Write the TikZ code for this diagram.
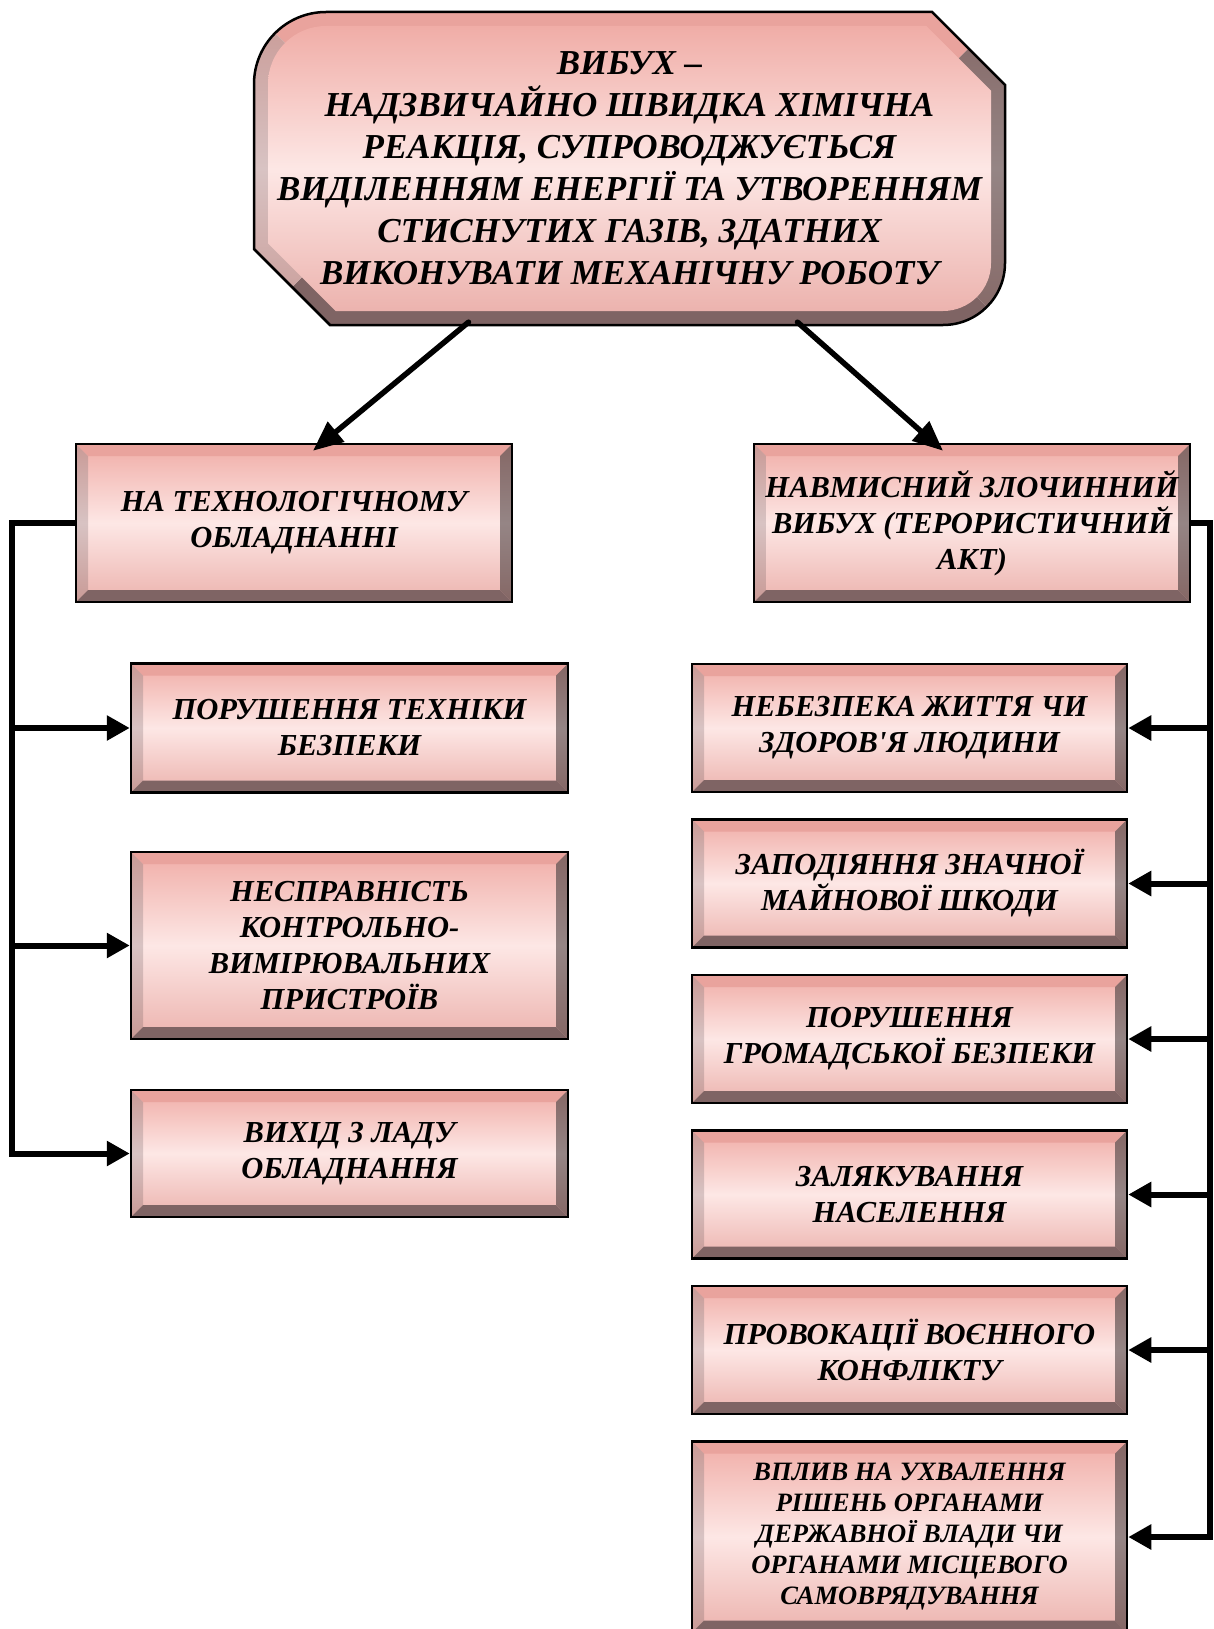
\documentclass[tikz,border=0pt]{standalone}
\usepackage{fontspec}
\setmainfont{Liberation Serif}
\usetikzlibrary{arrows.meta}

\definecolor{pinkTop}{HTML}{F0ADA7}
\definecolor{pinkMid}{HTML}{FDE7E5}
\definecolor{pinkBot}{HTML}{ECB3AE}
\definecolor{bevTop}{HTML}{E9A39D}
\definecolor{bevLeftEnd}{HTML}{C99A96}
\definecolor{bevLeft}{HTML}{D8C3C3}
\definecolor{bevRightEnd}{HTML}{856765}
\definecolor{bevRight}{HTML}{958585}
\definecolor{bevBot}{HTML}{7F6464}

\begin{document}
\begin{tikzpicture}[
    x=1pt, y=-1pt,
    main_text/.style={font=\bfseries\itshape\fontsize{35}{42}\selectfont, align=center},
    small_text/.style={font=\bfseries\itshape\fontsize{26.5}{31}\selectfont},
    bevel_box/.style={
        draw=black, line width=2.5pt, inner sep=0pt, align=center,
        font=\bfseries\itshape\fontsize{30.5}{36}\selectfont,
        top color=pinkTop, bottom color=pinkBot, middle color=pinkMid,
        path picture={
            \coordinate (pNW) at (path picture bounding box.north west);
            \coordinate (pNE) at (path picture bounding box.north east);
            \coordinate (pSW) at (path picture bounding box.south west);
            \coordinate (pSE) at (path picture bounding box.south east);
            \fill[bevTop] (pNW) -- (pNE) -- ([shift={(-12pt,-12pt)}]pNE) -- ([shift={(12pt,-12pt)}]pNW) -- cycle;
            \shade[top color=bevLeftEnd, bottom color=bevLeftEnd, middle color=bevLeft]
                (pNW) -- ([shift={(12pt,-12pt)}]pNW) -- ([shift={(12pt,12pt)}]pSW) -- (pSW) -- cycle;
            \shade[top color=bevRightEnd, bottom color=bevRightEnd, middle color=bevRight]
                (pNE) -- ([shift={(-12pt,-12pt)}]pNE) -- ([shift={(-12pt,12pt)}]pSE) -- (pSE) -- cycle;
            \fill[bevBot] (pSW) -- ([shift={(12pt,12pt)}]pSW) -- ([shift={(-12pt,12pt)}]pSE) -- (pSE) -- cycle;
        }
    },
    arrow_main/.style={-{Triangle[length=30pt,width=25pt]}, line width=5.5pt, line cap=round},
    arrow_side/.style={-{Triangle[length=23pt,width=24pt]}, line width=6pt},
    bus_line/.style={line width=6pt, line join=miter}
]
\useasboundingbox (0,0) rectangle (1214,1629);

% Macros for the big top box
\def\tL{254}
\def\tR{1005}
\def\tT{12}
\def\tB{325}
\def\tBev{14}
\def\tHalf{156}

\newcommand{\vybukhShape}[1]{(\tL+#1, \tT+72) arc[start angle=180, end angle=270, radius=72-#1]
    -- (\tR-73-0.41*#1, \tT+#1) -- (\tR-#1, \tT+73+0.41*#1) -- (\tR-#1, \tB-62)
    arc[start angle=0, end angle=90, radius=62-#1]
    -- (\tL+76+0.41*#1, \tB-#1) -- (\tL+#1, \tB-76-0.41*#1) -- cycle}

% ==========================================
% Top box: definition
\begin{scope}
    \clip \vybukhShape{0};
    \fill[bevTop] (\tL,\tT) -- (\tR,\tT) -- (\tR-\tHalf,\tT+\tHalf) -- (\tL+\tHalf,\tT+\tHalf) -- cycle;
    \fill[bevBot] (\tL,\tB) -- (\tR,\tB) -- (\tR-\tHalf,\tB-\tHalf) -- (\tL+\tHalf,\tB-\tHalf) -- cycle;
    \shade[top color=bevLeftEnd, bottom color=bevLeftEnd, middle color=bevLeft]
        (\tL,\tT) -- (\tL+\tHalf,\tT+\tHalf) -- (\tL+\tHalf,\tB-\tHalf) -- (\tL,\tB) -- cycle;
    \shade[top color=bevRightEnd, bottom color=bevRightEnd, middle color=bevRight]
        (\tR,\tT) -- (\tR-\tHalf,\tT+\tHalf) -- (\tR-\tHalf,\tB-\tHalf) -- (\tR,\tB) -- cycle;
\end{scope}
\shade[top color=pinkTop, bottom color=pinkBot, middle color=pinkMid] \vybukhShape{\tBev};
\draw[line width=2.5pt] \vybukhShape{0};
\node[main_text, minimum width=751pt, minimum height=313pt, inner sep=0pt] (vybukh) at (629.5,168.5)
    {ВИБУХ –\\НАДЗВИЧАЙНО ШВИДКА ХІМІЧНА\\РЕАКЦІЯ, СУПРОВОДЖУЄТЬСЯ\\ВИДІЛЕННЯМ ЕНЕРГІЇ ТА УТВОРЕННЯМ\\СТИСНУТИХ ГАЗІВ, ЗДАТНИХ\\ВИКОНУВАТИ МЕХАНІЧНУ РОБОТУ};

% ==========================================
% Two kinds of explosion
\node[bevel_box, minimum width=436pt, minimum height=158pt] (tekh) at (294,523)
    {НА ТЕХНОЛОГІЧНОМУ\\ОБЛАДНАННІ};
\node[bevel_box, minimum width=436pt, minimum height=158pt] (navm) at (972,523)
    {НАВМИСНИЙ ЗЛОЧИННИЙ\\ВИБУХ (ТЕРОРИСТИЧНИЙ\\АКТ)};

\draw[arrow_main] ([xshift=-161pt,yshift=3pt]vybukh.south) -- ([xshift=19pt,yshift=-8pt]tekh.north);
\draw[arrow_main] ([xshift=168pt,yshift=3pt]vybukh.south) -- ([xshift=-29pt,yshift=-8pt]navm.north);

% ==========================================
% Left column: causes on equipment
\node[bevel_box, minimum width=437pt, minimum height=129pt] (porush) at (349.5,728)
    {ПОРУШЕННЯ ТЕХНІКИ\\БЕЗПЕКИ};
\node[bevel_box, minimum width=437pt, minimum height=187pt] (nespr) at (349.5,945.5)
    {НЕСПРАВНІСТЬ\\КОНТРОЛЬНО-\\ВИМІРЮВАЛЬНИХ\\ПРИСТРОЇВ};
\node[bevel_box, minimum width=437pt, minimum height=127pt] (vykhid) at (349.5,1153.5)
    {ВИХІД З ЛАДУ\\ОБЛАДНАННЯ};

\coordinate (lbus) at (12,0);
\draw[bus_line, arrow_side] (tekh.west) -| (lbus |- vykhid.west) -- (vykhid.west);
\draw[arrow_side] (lbus |- porush.west) -- (porush.west);
\draw[arrow_side] (lbus |- nespr.west) -- (nespr.west);

% ==========================================
% Right column: aims of a terrorist act
\node[bevel_box, minimum width=435pt, minimum height=128pt] (nebezp) at (909.5,728)
    {НЕБЕЗПЕКА ЖИТТЯ ЧИ\\ЗДОРОВ\textquotesingle Я ЛЮДИНИ};
\node[bevel_box, minimum width=435pt, minimum height=128pt] (shkoda) at (909.5,883.5)
    {ЗАПОДІЯННЯ ЗНАЧНОЇ\\МАЙНОВОЇ ШКОДИ};
\node[bevel_box, minimum width=435pt, minimum height=128pt] (hromad) at (909.5,1039)
    {ПОРУШЕННЯ\\ГРОМАДСЬКОЇ БЕЗПЕКИ};
\node[bevel_box, minimum width=435pt, minimum height=128pt] (zalyak) at (909.5,1194.5)
    {ЗАЛЯКУВАННЯ\\НАСЕЛЕННЯ};
\node[bevel_box, minimum width=435pt, minimum height=128pt] (provok) at (909.5,1350)
    {ПРОВОКАЦІЇ ВОЄННОГО\\КОНФЛІКТУ};
\node[bevel_box, small_text, minimum width=435pt, minimum height=191pt] (vplyv) at (909.5,1537)
    {ВПЛИВ НА УХВАЛЕННЯ\\РІШЕНЬ ОРГАНАМИ\\ДЕРЖАВНОЇ ВЛАДИ ЧИ\\ОРГАНАМИ МІСЦЕВОГО\\САМОВРЯДУВАННЯ};

\coordinate (rbus) at (1210,0);
\draw[bus_line, arrow_side] (navm.east) -| (rbus |- vplyv.east) -- (vplyv.east);
\draw[arrow_side] (rbus |- nebezp.east) -- (nebezp.east);
\draw[arrow_side] (rbus |- shkoda.east) -- (shkoda.east);
\draw[arrow_side] (rbus |- hromad.east) -- (hromad.east);
\draw[arrow_side] (rbus |- zalyak.east) -- (zalyak.east);
\draw[arrow_side] (rbus |- provok.east) -- (provok.east);

\end{tikzpicture}
\end{document}
